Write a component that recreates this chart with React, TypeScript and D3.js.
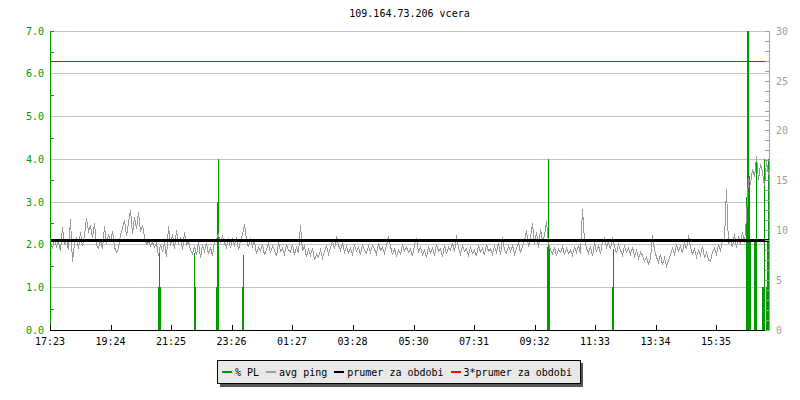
import React from "react";
import * as d3 from "d3";

const TITLE = "109.164.73.206 vcera";
const START_LABEL = "17:23";
const SPAN_MINUTES = 1438;
const PING_STEP_MIN = 4;

// avg ping, ms (right axis), one value every 4 minutes from 17:23
const pingValues: number[] = [
  8.6, 8.2, 9.0, 8.4, 8.9, 7.9, 10.3, 8.5, 9.1, 8.0,
  11.1, 6.8, 8.7, 9.3, 8.1, 9.8, 8.4, 9.5, 11.2, 9.9,
  10.4, 9.2, 10.7, 8.5, 8.2, 9.0, 8.1, 10.4, 8.6, 9.6,
  8.8, 9.9, 8.3, 7.8, 8.1, 9.6, 10.2, 11.0, 9.4, 10.8,
  12.0, 9.6, 11.3, 10.1, 11.8, 9.8, 10.5, 9.3, 8.6, 8.9,
  8.4, 8.8, 8.3, 8.7, 7.4, 8.6, 7.8, 8.8, 7.3, 10.4,
  8.4, 9.6, 8.1, 10.0, 8.7, 9.2, 8.0, 9.8, 8.5, 8.9,
  8.0, 7.6, 8.4, 7.5, 8.8, 7.2, 8.5, 7.9, 8.7, 7.6,
  8.3, 7.4, 8.9, 9.1, 9.6, 8.7, 9.4, 8.8, 8.3, 9.0,
  8.2, 9.1, 8.5, 9.3, 8.0, 8.9, 9.6, 10.6, 9.0, 8.3,
  9.2, 8.4, 9.0, 7.6, 8.3, 7.9, 8.6, 7.5, 8.1, 8.7,
  7.7, 8.4, 8.0, 7.4, 8.8, 7.9, 8.2, 7.6, 8.5, 8.0,
  7.8, 8.6, 7.5, 8.3, 7.7, 10.5, 7.9, 8.4, 7.3, 8.1,
  7.5, 8.2, 7.0, 7.6, 7.3, 8.0, 7.2, 7.9, 8.4, 7.6,
  8.3, 8.9, 8.1, 9.4, 8.5, 8.0, 8.7, 7.8, 8.4, 7.7,
  8.2, 7.6, 8.5, 7.9, 8.3, 7.5, 8.6, 8.0, 7.7, 8.4,
  7.8, 8.5, 8.1, 7.6, 8.7, 8.0, 8.3, 7.7, 8.5, 9.4,
  8.4, 7.5, 8.2, 7.3, 8.0, 7.6, 8.6, 7.9, 8.3, 7.8,
  8.1, 7.4, 8.5, 9.2, 7.8, 8.3, 7.5, 8.0, 7.2, 8.4,
  7.7, 8.2, 7.4, 8.6, 7.9, 8.1, 7.3, 8.5, 7.6, 8.3,
  8.0, 8.7, 7.8, 9.5, 8.2, 7.6, 8.4, 7.9, 8.1, 7.5,
  8.3, 7.7, 8.0, 7.4, 8.5, 7.8, 8.2, 7.5, 8.6, 7.9,
  8.1, 7.6, 8.4, 7.8, 8.7, 7.5, 9.3, 8.0, 7.7, 8.4,
  7.9, 8.5, 7.6, 8.2, 8.8, 7.7, 8.4, 9.0, 10.0, 8.3,
  9.2, 10.7, 8.6, 9.8, 8.2, 10.1, 8.9, 9.5, 10.9, 8.7,
  8.0, 7.6, 8.3, 7.4, 8.1, 7.8, 8.4, 7.5, 8.2, 7.7,
  8.0, 7.5, 8.3, 7.8, 8.5, 7.6, 12.1, 9.0, 8.2, 7.7,
  8.4, 7.4, 8.8, 7.8, 8.5, 7.6, 8.9, 9.2, 8.3, 8.8,
  8.1, 9.3, 8.4, 7.7, 8.6, 8.0, 7.5, 8.4, 7.8, 8.2,
  7.6, 8.3, 7.4, 8.0, 7.2, 7.8, 7.5, 6.9, 7.3, 6.6,
  7.1, 9.5, 8.0, 7.3, 6.8, 7.6, 6.5, 7.2, 6.4, 7.0,
  7.5, 8.2, 7.6, 8.6, 7.9, 8.4, 7.7, 8.8, 8.1, 9.5,
  8.3, 7.6, 8.1, 7.3, 8.0, 7.5, 8.4, 7.2, 7.8, 7.0,
  6.9, 7.8, 8.2, 7.6, 8.5, 8.0, 8.9, 9.2, 14.1, 8.6,
  9.0, 8.3, 9.6, 8.2, 9.4, 8.5, 9.8, 8.7, 11.3, 15.2,
  14.7, 16.1, 15.3, 17.4, 15.0, 16.6, 15.8, 14.4, 16.9, 15.5,
];

// packet loss, % (left axis): minute offset from 17:23 and value
const plMinutes: number[] = [
  216, 218, 220, 288, 290, 332, 334, 336, 384, 386,
  994, 996, 998, 1124, 1126,
  1392, 1394, 1396, 1398, 1400, 1408, 1410, 1412,
  1424, 1426, 1428, 1432, 1434, 1436,
];
const plValues: number[] = [
  1.0, 1.9, 1.0, 1.8, 1.0, 1.0, 3.0, 4.0, 1.0, 1.75,
  1.95, 4.0, 1.95, 1.0, 1.9,
  3.1, 7.0, 7.0, 3.6, 2.1, 2.05, 2.05, 4.0,
  1.0, 1.0, 4.0, 1.0, 2.05, 4.0,
];

const meanPing = 9.0;
const meanFactor = 3;

const xTickLabels = ["17:23", "19:24", "21:25", "23:26", "01:27", "03:28", "05:30", "07:31", "09:32", "11:33", "13:34", "15:35"];
const leftTicks = [0, 1, 2, 3, 4, 5, 6, 7];
const leftMinorTicks = [0.5, 1.5, 2.5, 3.5, 4.5, 5.5, 6.5];
const rightTicks = [0, 5, 10, 15, 20, 25, 30];
const rightMinorTicks = d3.range(0, 31, 1);

const legendLabels = ["% PL", "avg ping", "prumer za obdobi", "3*prumer za obdobi"];

const GREEN = "#009900";
const GRAY = "#999999";
const RED = "#ff0000";
const FONT = "'DejaVu Sans Mono', monospace";

function toMin(s: string) {
  const [h, m] = s.split(":").map(Number);
  return h * 60 + m;
}

export default function App() {
  const x = d3.scaleLinear().domain([0, SPAN_MINUTES]).range([50, 769]);
  const yL = d3.scaleLinear().domain([0, 7]).range([330, 30.7]);
  const yR = d3.scaleLinear().domain([0, 30]).range([330, 30.7]);
  const px = (v: number) => Math.round(v) + 0.5;

  const start = toMin(START_LABEL);
  const tickMin = xTickLabels.map((l) => (toMin(l) - start + 1440) % 1440);

  const line = d3
    .line<number>()
    .x((_, i) => x(i * PING_STEP_MIN) + 0.5)
    .y((d) => yR(d));

  const legendColors = [GREEN, "#a0a0a0", "#000000", RED];
  let lx = 222;
  const legendItems = legendLabels.map((lab, i) => {
    const item = { lab, color: legendColors[i], sx: lx, tx: lx + 13 };
    lx = lx + 13 + lab.length * 6.02 + 7;
    return item;
  });

  const x0 = x(0), x1 = x(SPAN_MINUTES);
  const redY = Math.round(yR(meanPing * meanFactor));

  return (
    <svg width={800} height={400} style={{ position: "absolute", left: 0, top: 0, background: "#fff" }}>
      <rect x={0} y={0} width={800} height={400} fill="#fff" />
      <text x={(x0 + x1) / 2} y={17} textAnchor="middle" fontFamily={FONT} fontSize={10} fill="#000">
        {TITLE}
      </text>

      {/* grid */}
      {leftTicks.map((t) => (
        <line key={"g" + t} x1={x0} x2={x1} y1={px(yL(t))} y2={px(yL(t))} stroke="#c4c4c4" shapeRendering="crispEdges" />
      ))}

      {/* PL bars */}
      {plMinutes.map((m, i) => (
        <rect key={"pl" + i} x={Math.round(x(m))} width={1} y={yL(plValues[i])} height={yL(0) - yL(plValues[i])} fill={GREEN} shapeRendering="crispEdges" />
      ))}

      {/* ping */}
      <path d={line(pingValues) || ""} fill="none" stroke={GRAY} strokeWidth={1} shapeRendering="crispEdges" />

      {/* mean lines */}
      <line x1={x0} x2={x1} y1={yR(meanPing)} y2={yR(meanPing)} stroke="#000" strokeWidth={3} shapeRendering="crispEdges" />
      <rect x={x0} y={redY} width={x1 - x0} height={1} fill={RED} shapeRendering="crispEdges" />

      {/* x axis */}
      <line x1={x0} x2={x1} y1={330.5} y2={330.5} stroke="#000" shapeRendering="crispEdges" />
      {tickMin.map((m, i) => (
        <g key={"xt" + i}>
          <line x1={px(x(m))} x2={px(x(m))} y1={325} y2={331} stroke="#000" shapeRendering="crispEdges" />
          <text x={x(m)} y={345} textAnchor="middle" fontFamily={FONT} fontSize={10} fill="#000">
            {xTickLabels[i]}
          </text>
        </g>
      ))}

      {/* left axis */}
      <line x1={px(x0)} x2={px(x0)} y1={yL(7)} y2={325} stroke={GREEN} shapeRendering="crispEdges" />
      {leftMinorTicks.concat([7]).map((t) => (
        <line key={"lm" + t} x1={x0} x2={x0 + 4} y1={px(yL(t))} y2={px(yL(t))} stroke={GREEN} shapeRendering="crispEdges" />
      ))}
      {leftTicks.map((t) => (
        <text key={"lt" + t} x={44} y={yL(t) + 4} textAnchor="end" fontFamily={FONT} fontSize={10} fill={GREEN}>
          {t.toFixed(1)}
        </text>
      ))}

      {/* right axis */}
      <line x1={px(x1)} x2={px(x1)} y1={yR(30)} y2={331} stroke="#a0a0a0" shapeRendering="crispEdges" />
      {rightMinorTicks.map((t) => (
        <line key={"rm" + t} x1={x1 - 4} x2={x1} y1={px(yR(t))} y2={px(yR(t))} stroke="#a0a0a0" shapeRendering="crispEdges" />
      ))}
      {rightTicks.map((t) => (
        <text key={"rt" + t} x={776} y={yR(t) + 4} fontFamily={FONT} fontSize={10} fill="#a0a0a0">
          {t}
        </text>
      ))}

      {/* legend */}
      <rect x={220} y={363} width={363} height={24} fill="#555" shapeRendering="crispEdges" />
      <rect x={217.5} y={360.5} width={363} height={23} fill="#e8e8e8" stroke="#000" shapeRendering="crispEdges" />
      {legendItems.map((it, i) => (
        <g key={"lg" + i}>
          <rect x={it.sx} y={371} width={10} height={2} fill={it.color} shapeRendering="crispEdges" />
          <text x={it.tx} y={375.5} fontFamily={FONT} fontSize={10} fill="#000">
            {it.lab}
          </text>
        </g>
      ))}
    </svg>
  );
}
